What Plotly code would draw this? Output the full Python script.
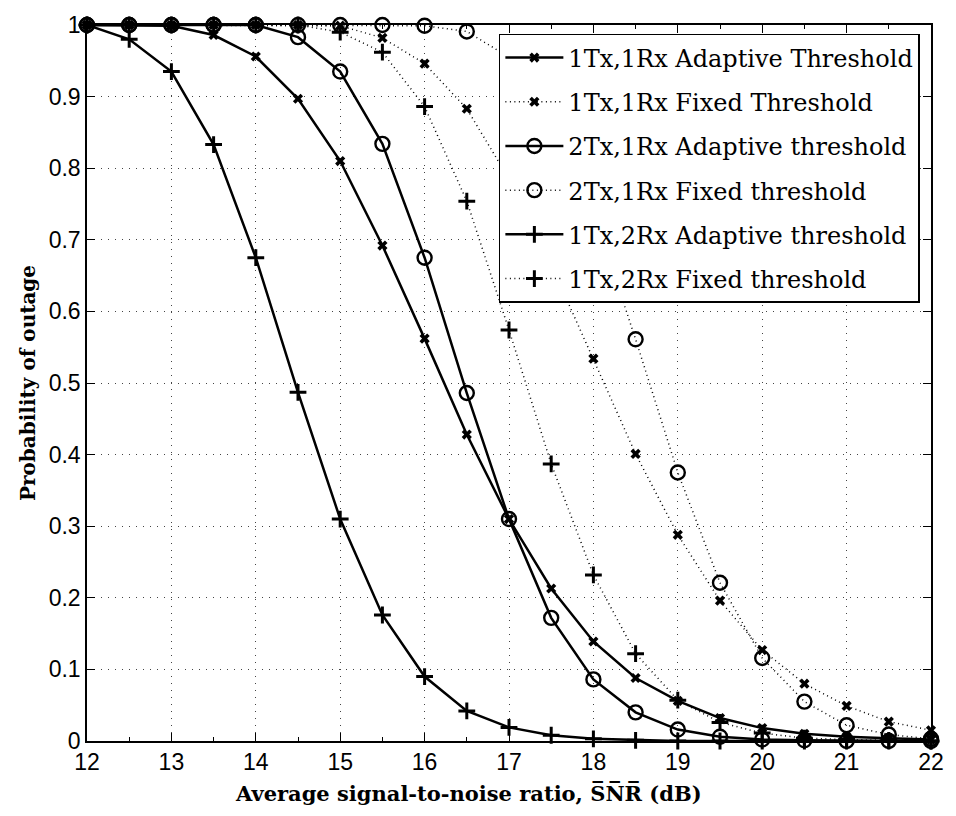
import plotly.graph_objects as go

# Average SNR grid (dB)
snr = [12, 12.5, 13, 13.5, 14, 14.5, 15, 15.5, 16, 16.5, 17,
       17.5, 18, 18.5, 19, 19.5, 20, 20.5, 21, 21.5, 22]

# Outage probability per scheme
p_1t1r_adapt = [1.0, 1.0, 0.999, 0.986, 0.956, 0.897, 0.810, 0.692, 0.562, 0.428, 0.310,
                0.213, 0.139, 0.088, 0.056, 0.032, 0.018, 0.010, 0.006, 0.004, 0.002]
p_1t1r_fixed = [1.0, 1.0, 1.0, 1.0, 1.0, 1.0, 0.999, 0.982, 0.946, 0.883, 0.785,
                0.665, 0.534, 0.401, 0.288, 0.196, 0.127, 0.080, 0.049, 0.027, 0.015]
p_2t1r_adapt = [1.0, 1.0, 1.0, 1.0, 1.0, 0.983, 0.935, 0.834, 0.675, 0.486, 0.310,
                0.172, 0.086, 0.040, 0.016, 0.006, 0.002, 0.001, 0.0, 0.0, 0.0]
p_2t1r_fixed = [1.0, 1.0, 1.0, 1.0, 1.0, 1.0, 1.0, 1.0, 0.999, 0.991, 0.955,
                0.875, 0.740, 0.561, 0.375, 0.221, 0.116, 0.055, 0.022, 0.009, 0.003]
p_1t2r_adapt = [1.0, 0.980, 0.935, 0.833, 0.675, 0.487, 0.310, 0.176, 0.090, 0.042, 0.019,
                0.008, 0.003, 0.001, 0.0, 0.0, 0.0, 0.0, 0.0, 0.0, 0.0]
p_1t2r_fixed = [1.0, 1.0, 1.0, 1.0, 1.0, 1.0, 0.990, 0.962, 0.886, 0.754, 0.574,
                0.387, 0.232, 0.122, 0.057, 0.026, 0.011, 0.004, 0.002, 0.001, 0.0]

names = ["1Tx,1Rx Adaptive Threshold", "1Tx,1Rx Fixed Threshold",
         "2Tx,1Rx Adaptive threshold", "2Tx,1Rx Fixed threshold",
         "1Tx,2Rx Adaptive threshold", "1Tx,2Rx Fixed threshold"]

series = [p_1t1r_adapt, p_1t1r_fixed, p_2t1r_adapt, p_2t1r_fixed, p_1t2r_adapt, p_1t2r_fixed]

solid = dict(color="black", width=2.5)
dotted = dict(color="black", width=1.5, dash="1px,3.5px")

mk_x = dict(symbol="x", size=9, color="black", line=dict(width=0))
mk_o = dict(symbol="circle-open", size=14, color="black", line=dict(width=2.4, color="black"))
mk_p = dict(symbol="cross-thin", size=12, color="black", line=dict(width=3, color="black"))

styles = [(solid, mk_x), (dotted, mk_x), (solid, mk_o), (dotted, mk_o), (solid, mk_p), (dotted, mk_p)]

fig = go.Figure()
for i, (name, ys, (ln, mk)) in enumerate(zip(names, series, styles)):
    fig.add_trace(go.Scatter(
        x=snr, y=ys, name=name, mode="lines+markers",
        line=ln, marker=mk, cliponaxis=False, legendgroup=f"g{i}",
    ))

grid_dash = "1px,6px"
tick_font = dict(family="Liberation Sans, Arial, sans-serif", size=23, color="black")
title_font = dict(family="DejaVu Serif, serif", size=20, color="black")

overline_snr = "S\u0305N\u0305R\u0305"

fig.update_xaxes(
    range=[12, 22], tickmode="array", tickvals=list(range(12, 23)),
    ticks="inside", ticklen=8, tickwidth=1, tickcolor="black",
    minor=dict(ticks="inside", ticklen=4, dtick=0.5, tickcolor="black", showgrid=False),
    showline=True, linecolor="black", linewidth=1.5, mirror="allticks",
    showgrid=True, gridcolor="#444", gridwidth=1, griddash=grid_dash,
    tickfont=tick_font, zeroline=False,
)
fig.update_yaxes(
    range=[0, 1], tickmode="array",
    tickvals=[0, 0.1, 0.2, 0.3, 0.4, 0.5, 0.6, 0.7, 0.8, 0.9, 1],
    ticktext=["0", "0.1", "0.2", "0.3", "0.4", "0.5", "0.6", "0.7", "0.8", "0.9", "1"],
    ticks="inside", ticklen=8, tickwidth=1, tickcolor="black",
    showline=True, linecolor="black", linewidth=1.5, mirror="allticks",
    showgrid=True, gridcolor="#444", gridwidth=1, griddash=grid_dash,
    tickfont=tick_font, zeroline=False,
    title=dict(text="<b>Probability of outage</b>", font=title_font, standoff=8),
)

# x-axis caption placed as an annotation so it can sit left of the axis centre
fig.add_annotation(
    text=f"<b>Average signal-to-noise ratio, {overline_snr} (dB)</b>",
    xref="paper", yref="paper", x=0.4525, y=0, xanchor="center", yanchor="top",
    yshift=-38, showarrow=False, font=dict(family="DejaVu Serif, serif", size=21, color="black"),
)

fig.update_layout(
    width=956, height=816,
    margin=dict(l=87, r=16, t=22, b=75),
    paper_bgcolor="white", plot_bgcolor="white",
    showlegend=True,
    legend=dict(
        x=0.488, y=0.9875, xanchor="left", yanchor="top",
        bgcolor="white", bordercolor="black", borderwidth=1.5,
        font=dict(family="DejaVu Serif, serif", size=24, color="black"),
        tracegroupgap=10, itemwidth=58,
    ),
)

fig.write_html("out.html")
